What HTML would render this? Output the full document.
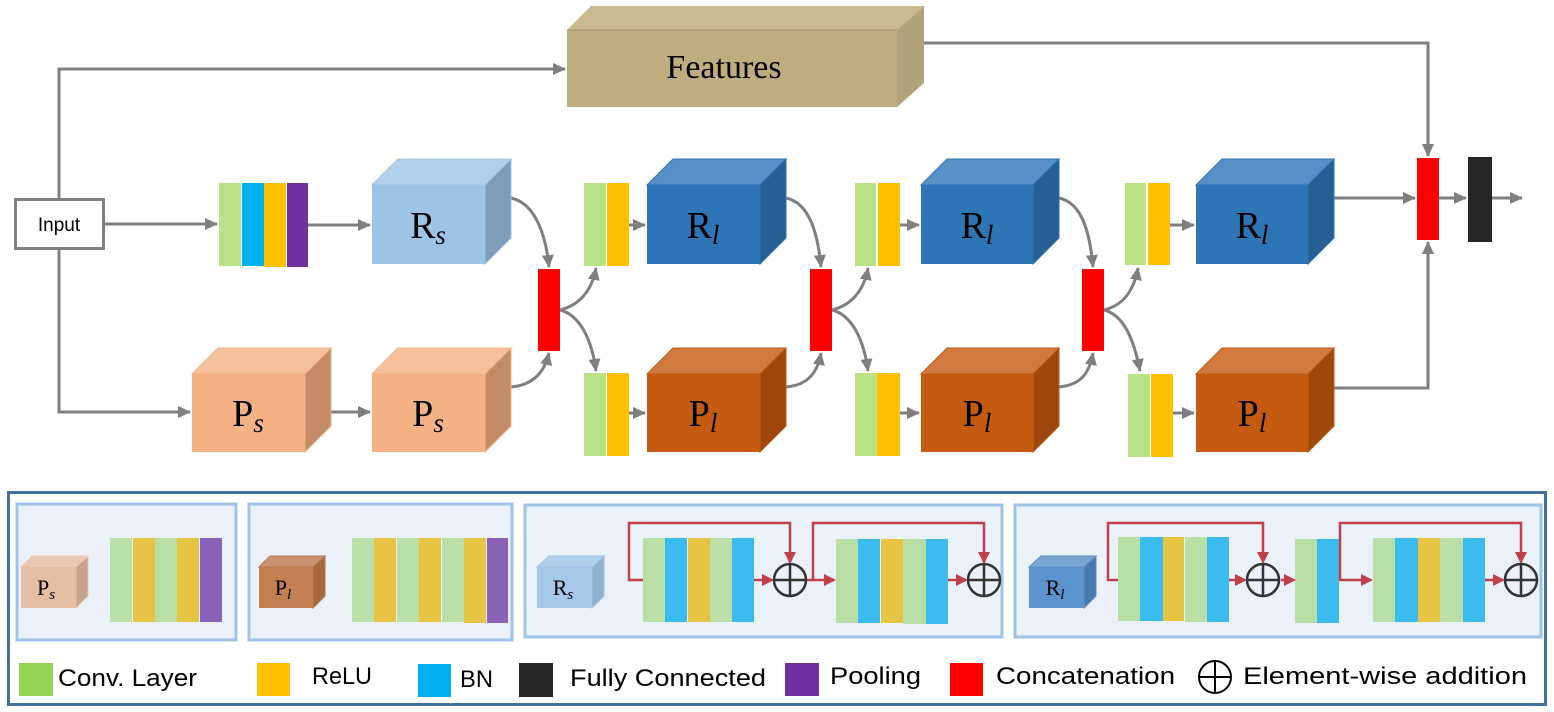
<!DOCTYPE html>
<html><head><meta charset="utf-8"><style>
html,body{margin:0;padding:0;background:#fff;}
svg{display:block;}
.m{font-family:"Liberation Serif",serif;}
.l{font-family:"Liberation Sans",sans-serif;}
</style></head><body>
<svg width="1554" height="712" viewBox="0 0 1554 712" xmlns="http://www.w3.org/2000/svg">
<defs>
<marker id="ag" markerWidth="14" markerHeight="14" refX="12" refY="7" orient="auto" markerUnits="userSpaceOnUse"><path d="M0,1 L13,7 L0,13 z" fill="#7f7f7f"/></marker>
<marker id="ar" markerWidth="12" markerHeight="12" refX="10" refY="6" orient="auto" markerUnits="userSpaceOnUse"><path d="M0,0 L12,6 L0,12 z" fill="#c0404a"/></marker>
</defs>
<g stroke="#7f7f7f" stroke-width="3" fill="none">
<polyline points="59,198 59,69 565,69" marker-end="url(#ag)"/>
<line x1="104" y1="224" x2="217" y2="224" marker-end="url(#ag)"/>
<polyline points="59,250 59,412 190,412" marker-end="url(#ag)"/>
<line x1="307" y1="225" x2="370" y2="225" marker-end="url(#ag)"/>
<line x1="305" y1="412" x2="370" y2="412" marker-end="url(#ag)"/>
<polyline points="924,43 1428,43 1428,156" marker-end="url(#ag)"/>
<line x1="1333" y1="198" x2="1415" y2="198" marker-end="url(#ag)"/>
<polyline points="1333,388 1428,388 1428,242" marker-end="url(#ag)"/>
<line x1="1439" y1="198" x2="1466" y2="198" marker-end="url(#ag)"/>
<line x1="1492" y1="198" x2="1522" y2="198" marker-end="url(#ag)"/>
<path d="M511,198 C535,203 546,235 549,267" marker-end="url(#ag)"/>
<path d="M511,387 C535,385 545,370 549,353" marker-end="url(#ag)"/>
<path d="M560,310 C580,305 592,290 596,268" marker-end="url(#ag)"/>
<path d="M560,310 C580,315 592,340 596,371" marker-end="url(#ag)"/>
<path d="M786,198 C810,203 818,235 821,267" marker-end="url(#ag)"/>
<path d="M786,387 C810,385 818,370 821,353" marker-end="url(#ag)"/>
<path d="M832,310 C852,305 864,290 868,268" marker-end="url(#ag)"/>
<path d="M832,310 C852,315 864,340 868,371" marker-end="url(#ag)"/>
<path d="M1059,198 C1083,203 1090,235 1093,267" marker-end="url(#ag)"/>
<path d="M1059,387 C1083,385 1090,370 1093,353" marker-end="url(#ag)"/>
<path d="M1104,310 C1124,305 1134,290 1138,268" marker-end="url(#ag)"/>
<path d="M1104,310 C1124,315 1134,340 1140,371" marker-end="url(#ag)"/>
<line x1="629" y1="225" x2="645" y2="225" marker-end="url(#ag)"/>
<line x1="629" y1="413" x2="645" y2="413" marker-end="url(#ag)"/>
<line x1="900" y1="225" x2="919" y2="225" marker-end="url(#ag)"/>
<line x1="900" y1="413" x2="919" y2="413" marker-end="url(#ag)"/>
<line x1="1170" y1="225" x2="1194" y2="225" marker-end="url(#ag)"/>
<line x1="1173" y1="413" x2="1194" y2="413" marker-end="url(#ag)"/>
</g>
<rect x="15.5" y="199.5" width="88" height="49" fill="#fff" stroke="#7f7f7f" stroke-width="3"/>
<text x="59" y="231" class="l" font-size="19" text-anchor="middle">Input</text>
<polygon points="567,30 591,6 924,6 897,30" fill="#c8b98f"/>
<polygon points="897,30 924,6 924,83 897,107" fill="#b0a27a"/>
<rect x="567" y="30" width="330" height="77" fill="#bfad7f"/>
<line x1="567" y1="30" x2="897" y2="30" stroke="#a89468" stroke-width="1"/>
<text x="724" y="78" class="m" font-size="34" text-anchor="middle">Features</text>
<rect x="219" y="183" width="22" height="83" fill="#b9e286"/>
<rect x="242" y="183" width="22" height="83" fill="#00b0f0"/>
<rect x="264" y="183" width="22" height="84" fill="#ffc000"/>
<rect x="287" y="183" width="21" height="84" fill="#7030a0"/>
<polygon points="372,185 398,159 511,159 485,185" fill="#b1cfeb" stroke="#9dc3e6"/>
<polygon points="485,185 511,159 511,238 485,264" fill="#7f9db8" stroke="#9dc3e6"/>
<rect x="372" y="185" width="113" height="79" fill="#9dc3e6"/>
<polygon points="192,374 218,348 331,348 305,374" fill="#f5c19c" stroke="#f4b183"/>
<polygon points="305,374 331,348 331,426 305,452" fill="#c48c66" stroke="#f4b183"/>
<rect x="192" y="374" width="113" height="78" fill="#f4b183"/>
<polygon points="372,374 398,348 511,348 485,374" fill="#f5c19c" stroke="#f4b183"/>
<polygon points="485,374 511,348 511,426 485,452" fill="#c48c66" stroke="#f4b183"/>
<rect x="372" y="374" width="113" height="78" fill="#f4b183"/>
<polygon points="647,185 673,159 786,159 760,185" fill="#5590c6" stroke="#2e75b6"/>
<polygon points="760,185 786,159 786,238 760,264" fill="#255f93" stroke="#2e75b6"/>
<rect x="647" y="185" width="113" height="79" fill="#2e75b6"/>
<polygon points="921,185 947,159 1059,159 1033,185" fill="#5590c6" stroke="#2e75b6"/>
<polygon points="1033,185 1059,159 1059,238 1033,264" fill="#255f93" stroke="#2e75b6"/>
<rect x="921" y="185" width="112" height="79" fill="#2e75b6"/>
<polygon points="1196,185 1222,159 1334,159 1308,185" fill="#5590c6" stroke="#2e75b6"/>
<polygon points="1308,185 1334,159 1334,238 1308,264" fill="#255f93" stroke="#2e75b6"/>
<rect x="1196" y="185" width="112" height="79" fill="#2e75b6"/>
<polygon points="647,374 673,348 786,348 760,374" fill="#d07a40" stroke="#c55a11"/>
<polygon points="760,374 786,348 786,426 760,452" fill="#9e480e" stroke="#c55a11"/>
<rect x="647" y="374" width="113" height="78" fill="#c55a11"/>
<polygon points="921,374 947,348 1059,348 1033,374" fill="#d07a40" stroke="#c55a11"/>
<polygon points="1033,374 1059,348 1059,426 1033,452" fill="#9e480e" stroke="#c55a11"/>
<rect x="921" y="374" width="112" height="78" fill="#c55a11"/>
<polygon points="1196,374 1222,348 1334,348 1308,374" fill="#d07a40" stroke="#c55a11"/>
<polygon points="1308,374 1334,348 1334,426 1308,452" fill="#9e480e" stroke="#c55a11"/>
<rect x="1196" y="374" width="112" height="78" fill="#c55a11"/>
<g class="m" font-size="38" text-anchor="middle">
<text x="428" y="238">R<tspan font-style="italic" font-size="27" dy="6">s</tspan></text>
<text x="248" y="426">P<tspan font-style="italic" font-size="27" dy="6">s</tspan></text>
<text x="428" y="426">P<tspan font-style="italic" font-size="27" dy="6">s</tspan></text>
<text x="703" y="238">R<tspan font-style="italic" font-size="27" dy="6">l</tspan></text>
<text x="977" y="238">R<tspan font-style="italic" font-size="27" dy="6">l</tspan></text>
<text x="1252" y="238">R<tspan font-style="italic" font-size="27" dy="6">l</tspan></text>
<text x="703" y="426">P<tspan font-style="italic" font-size="27" dy="6">l</tspan></text>
<text x="977" y="426">P<tspan font-style="italic" font-size="27" dy="6">l</tspan></text>
<text x="1252" y="426">P<tspan font-style="italic" font-size="27" dy="6">l</tspan></text>
</g>
<rect x="584" y="183" width="22" height="83" fill="#b9e286"/><rect x="607" y="183" width="22" height="83" fill="#ffc000"/>
<rect x="584" y="373" width="22" height="83" fill="#b9e286"/><rect x="607" y="373" width="22" height="83" fill="#ffc000"/>
<rect x="855" y="183" width="21" height="83" fill="#b9e286"/><rect x="878" y="183" width="22" height="83" fill="#ffc000"/>
<rect x="855" y="373" width="22" height="83" fill="#b9e286"/><rect x="877" y="373" width="23" height="83" fill="#ffc000"/>
<rect x="1125" y="183" width="21" height="82" fill="#b9e286"/><rect x="1148" y="183" width="22" height="82" fill="#ffc000"/>
<rect x="1128" y="374" width="22" height="83" fill="#b9e286"/><rect x="1151" y="374" width="22" height="83" fill="#ffc000"/>
<rect x="538" y="269" width="22" height="82" fill="#ff0000"/>
<rect x="810" y="269" width="22" height="82" fill="#ff0000"/>
<rect x="1082" y="269" width="22" height="82" fill="#ff0000"/>
<rect x="1417" y="158" width="22" height="82" fill="#ff0000"/>
<rect x="1468" y="157" width="24" height="85" fill="#262626"/>

<rect x="8.5" y="492.5" width="1537" height="212" fill="#fff" stroke="#41719c" stroke-width="3"/>
<g fill="#eaf1f9" stroke="#9dc3e6" stroke-width="3">
<rect x="17" y="504" width="219" height="136"/>
<rect x="249" y="504" width="263" height="136"/>
<rect x="525" y="505" width="477" height="132"/>
<rect x="1015" y="505" width="526" height="132"/>
</g>
<polygon points="21,567 32,556 88,556 76,567" fill="#e9c9b3" stroke="#f0c8ad"/>
<polygon points="76,567 88,556 88,596 76,608" fill="#c4a28c" stroke="#f0c8ad"/>
<rect x="21" y="567" width="55" height="41" fill="#e6bea4"/>
<text x="46" y="595" class="m" font-size="22" text-anchor="middle">P<tspan font-style="italic" font-size="15" dy="4">s</tspan></text>
<rect x="110" y="538" width="22" height="84" fill="#badfa6"/><rect x="133" y="538" width="22" height="84" fill="#e8c444"/><rect x="155" y="538" width="22" height="84" fill="#badfa6"/><rect x="177" y="538" width="22" height="84" fill="#e8c444"/><rect x="200" y="538" width="22" height="84" fill="#8a63b9"/>
<polygon points="259,567 270,556 325,556 313,567" fill="#ca9270" stroke="#b8764e"/>
<polygon points="313,567 325,556 325,596 313,608" fill="#a8693f" stroke="#b8764e"/>
<rect x="259" y="567" width="54" height="41" fill="#c17f52"/>
<text x="283" y="595" class="m" font-size="22" text-anchor="middle">P<tspan font-style="italic" font-size="15" dy="4">l</tspan></text>
<rect x="352" y="538" width="22" height="84" fill="#badfa6"/><rect x="374" y="538" width="22" height="84" fill="#e8c444"/><rect x="397" y="538" width="22" height="84" fill="#badfa6"/><rect x="419" y="538" width="22" height="84" fill="#e8c444"/><rect x="442" y="538" width="22" height="84" fill="#badfa6"/><rect x="464" y="538" width="22" height="85" fill="#e8c444"/><rect x="487" y="538" width="21" height="85" fill="#8a63b9"/>
<polygon points="537,567 549,556 604,556 592,567" fill="#b4d1ec" stroke="#9dc3e6"/>
<polygon points="592,567 604,556 604,596 592,608" fill="#8fb0cf" stroke="#9dc3e6"/>
<rect x="537" y="567" width="55" height="41" fill="#a5c8e8"/>
<text x="563" y="595" class="m" font-size="22" text-anchor="middle">R<tspan font-style="italic" font-size="15" dy="4">s</tspan></text>
<rect x="643" y="538" width="22" height="84" fill="#badfa6"/><rect x="665" y="538" width="22" height="84" fill="#3bbbee"/><rect x="688" y="538" width="22" height="84" fill="#e8c444"/><rect x="710" y="538" width="22" height="84" fill="#badfa6"/><rect x="732" y="538" width="22" height="84" fill="#3bbbee"/>
<rect x="836" y="539" width="22" height="84" fill="#badfa6"/><rect x="858" y="539" width="22" height="84" fill="#3bbbee"/><rect x="881" y="539" width="22" height="84" fill="#e8c444"/><rect x="903" y="539" width="23" height="85" fill="#badfa6"/><rect x="926" y="539" width="22" height="85" fill="#3bbbee"/>
<polygon points="1029,567 1041,556 1096,556 1084,567" fill="#78a7d4" stroke="#5b8fc4"/>
<polygon points="1084,567 1096,556 1096,596 1084,608" fill="#4a7aab" stroke="#5b8fc4"/>
<rect x="1029" y="567" width="55" height="41" fill="#5b93cc"/>
<text x="1055" y="595" class="m" font-size="22" text-anchor="middle">R<tspan font-style="italic" font-size="15" dy="4">l</tspan></text>
<rect x="1118" y="537" width="22" height="84" fill="#badfa6"/><rect x="1140" y="537" width="23" height="84" fill="#3bbbee"/><rect x="1163" y="537" width="21" height="84" fill="#e8c444"/><rect x="1185" y="537" width="22" height="85" fill="#badfa6"/><rect x="1207" y="537" width="22" height="85" fill="#3bbbee"/>
<rect x="1295" y="539" width="22" height="84" fill="#badfa6"/><rect x="1317" y="539" width="22" height="84" fill="#3bbbee"/>
<rect x="1373" y="538" width="22" height="84" fill="#badfa6"/><rect x="1395" y="538" width="23" height="84" fill="#3bbbee"/><rect x="1418" y="538" width="22" height="84" fill="#e8c444"/><rect x="1440" y="538" width="23" height="84" fill="#badfa6"/><rect x="1463" y="538" width="22" height="84" fill="#3bbbee"/>
<g stroke="#c0404a" stroke-width="2.5" fill="none">
<polyline points="643,580 629,580 629,523 790,523 790,562" marker-end="url(#ar)"/>
<line x1="754" y1="580" x2="772" y2="580" marker-end="url(#ar)"/>
<line x1="806" y1="580" x2="834" y2="580" marker-end="url(#ar)"/>
<polyline points="813,580 813,523 984,523 984,562" marker-end="url(#ar)"/>
<line x1="948" y1="580" x2="966" y2="580" marker-end="url(#ar)"/>
<polyline points="1118,580 1108,580 1108,523 1263,523 1263,562" marker-end="url(#ar)"/>
<line x1="1229" y1="580" x2="1245" y2="580" marker-end="url(#ar)"/>
<line x1="1281" y1="580" x2="1294" y2="580" marker-end="url(#ar)"/>
<line x1="1339" y1="580" x2="1371" y2="580" marker-end="url(#ar)"/>
<polyline points="1340,580 1340,523 1521,523 1521,562" marker-end="url(#ar)"/>
<line x1="1485" y1="580" x2="1503" y2="580" marker-end="url(#ar)"/>
</g>
<g stroke="#333" stroke-width="2.5" fill="none">
<circle cx="790" cy="580" r="16"/><path d="M774,580 H806 M790,564 V596"/>
<circle cx="984" cy="580" r="16"/><path d="M968,580 H1000 M984,564 V596"/>
<circle cx="1263" cy="580" r="16"/><path d="M1247,580 H1279 M1263,564 V596"/>
<circle cx="1521" cy="580" r="16"/><path d="M1505,580 H1537 M1521,564 V596"/>
</g>
<rect x="19" y="663" width="34" height="33" fill="#92d050"/>
<text x="58" y="686" class="l" font-size="24" textLength="139" lengthAdjust="spacingAndGlyphs">Conv. Layer</text>
<rect x="257" y="663" width="33" height="33" fill="#ffc000"/>
<text x="312" y="684" class="l" font-size="24" textLength="60" lengthAdjust="spacingAndGlyphs">ReLU</text>
<rect x="418" y="664" width="33" height="33" fill="#00b0f0"/>
<text x="460" y="687" class="l" font-size="24" textLength="33" lengthAdjust="spacingAndGlyphs">BN</text>
<rect x="519" y="663" width="34" height="34" fill="#262626"/>
<text x="570" y="686" class="l" font-size="24" textLength="196" lengthAdjust="spacingAndGlyphs">Fully Connected</text>
<rect x="785" y="663" width="34" height="33" fill="#7030a0"/>
<text x="830" y="684" class="l" font-size="24" textLength="91" lengthAdjust="spacingAndGlyphs">Pooling</text>
<rect x="950" y="663" width="33" height="33" fill="#ff0000"/>
<text x="996" y="684" class="l" font-size="24" textLength="179" lengthAdjust="spacingAndGlyphs">Concatenation</text>
<g stroke="#000" stroke-width="2" fill="none"><circle cx="1215" cy="677" r="16"/><path d="M1199,677 H1231 M1215,661 V693"/></g>
<text x="1243" y="684" class="l" font-size="24" textLength="284" lengthAdjust="spacingAndGlyphs">Element-wise addition</text>
</svg>
</body></html>
